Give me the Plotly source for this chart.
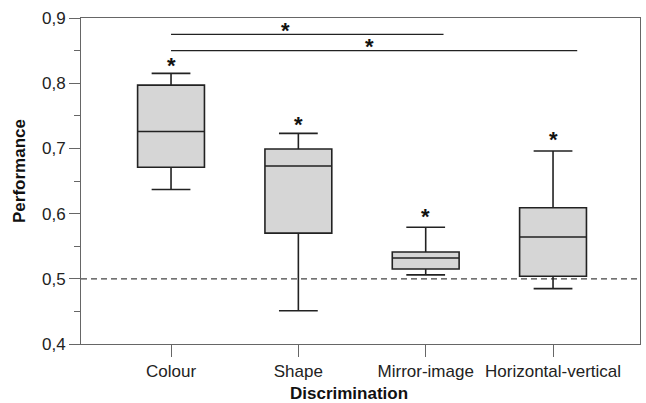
import plotly.graph_objects as go

categories = ["Colour", "Shape", "Mirror-image", "Horizontal-vertical"]
lower = [0.637, 0.451, 0.506, 0.485]
q1 = [0.671, 0.570, 0.515, 0.504]
median = [0.726, 0.673, 0.532, 0.564]
q3 = [0.797, 0.699, 0.541, 0.609]
upper = [0.815, 0.723, 0.579, 0.696]
star_y = [0.833, 0.742, 0.601, 0.719]
chance = 0.5
# significance brackets: (x start, x end, y, star x, star y)
brackets = [(0.0, 2.14, 0.875, 0.90, 0.887), (0.0, 3.19, 0.850, 1.56, 0.862)]
yticks = [0.4, 0.5, 0.6, 0.7, 0.8, 0.9]

FONT = "Liberation Sans, Arial, sans-serif"
STAR_SHIFT = -0.006
fig = go.Figure()
for i, c in enumerate(categories):
    fig.add_trace(go.Box(
        x=[i], q1=[q1[i]], median=[median[i]], q3=[q3[i]],
        lowerfence=[lower[i]], upperfence=[upper[i]],
        width=0.525, whiskerwidth=0.58,
        fillcolor="#d6d6d6", line=dict(color="#222222", width=1.6),
        boxpoints=False, showlegend=False, hoverinfo="skip"))

fig.add_shape(type="line", xref="paper", x0=0, x1=1, yref="y", y0=chance, y1=chance,
              line=dict(color="#444444", width=1.2, dash="6px,4px"), layer="below")
for (x0, x1, y, sx, sy) in brackets:
    fig.add_shape(type="line", xref="x", yref="y", x0=x0, x1=x1, y0=y, y1=y,
                  line=dict(color="#222222", width=1.3))
    fig.add_annotation(x=sx, y=sy + STAR_SHIFT, text="<b>*</b>", showarrow=False, xref="x", yref="y",
                       font=dict(size=22, family=FONT, color="#111"), yanchor="middle")
for i in range(len(categories)):
    fig.add_annotation(x=i, y=star_y[i] + STAR_SHIFT, text="<b>*</b>", showarrow=False, xref="x", yref="y",
                       font=dict(size=22, family=FONT, color="#111"), yanchor="middle")

fig.add_annotation(text="<b>Discrimination</b>", xref="paper", yref="paper",
                   x=(349 - 81) / 559, y=-(393 - 344) / 326, showarrow=False,
                   font=dict(size=17, family=FONT, color="#111"), yanchor="middle")
fig.add_annotation(text="<b>Performance</b>", xref="paper", yref="paper",
                   x=-(81 - 20) / 559, y=(344 - 171) / 326, showarrow=False, textangle=-90,
                   font=dict(size=17, family=FONT, color="#111"), xanchor="center", yanchor="middle")

fig.update_layout(
    width=646, height=403, margin=dict(l=81, r=6, t=18, b=59),
    plot_bgcolor="white", paper_bgcolor="white", separators=",.",
    font=dict(family=FONT, size=17, color="#222"),
)
fig.update_xaxes(range=[-0.707, 3.683], tickvals=[0, 1, 2, 3], ticktext=categories,
                 ticks="outside", ticklen=12, tickcolor="#666", showline=True, linecolor="#666",
                 linewidth=1, mirror=True, showgrid=False, zeroline=False,
                 tickfont=dict(size=17, color="#222"))
fig.update_yaxes(range=[0.4, 0.9], tickvals=yticks, tickformat=".1f",
                 ticks="outside", ticklen=11, tickcolor="#666", showline=True, linecolor="#666",
                 linewidth=1, mirror=True, showgrid=False, zeroline=False,
                 minor=dict(dtick=0.05, ticks="outside", ticklen=6, tickcolor="#666", showgrid=False),
                 tickfont=dict(size=17, color="#222"))
fig.write_html("out.html")
